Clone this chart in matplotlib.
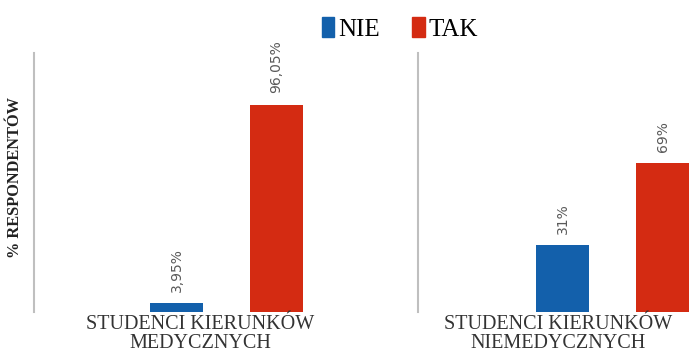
import matplotlib
matplotlib.use("Agg")
import matplotlib.pyplot as plt
from matplotlib.patches import Rectangle

categories = ["STUDENCI KIERUNKÓW\nMEDYCZNYCH", "STUDENCI KIERUNKÓW\nNIEMEDYCZNYCH"]
series = ["NIE", "TAK"]
nie_values = [3.95, 31.0]
tak_values = [96.05, 69.0]
nie_labels = ["3,95%", "31%"]
tak_labels = ["96,05%", "69%"]
ylabel = "% RESPONDENTÓW"

colors = {"NIE": "#1360AB", "TAK": "#D42B12"}
axis_grey = "#BFBFBF"
label_grey = "#595959"
text_dark = "#333333"

W, H = 690, 354
fig = plt.figure(figsize=(W / 100, H / 100), dpi=100)

def px_axes(x0, x1, ytop, ybot):
    return fig.add_axes([x0 / W, 1 - ybot / H, (x1 - x0) / W, (ybot - ytop) / H])

# panel layout (pixels): axis line x, right edge, bar-group center, tick label center
panels = [
    dict(x0=34, x1=418, center=226.5, tick=200),
    dict(x0=418, x1=690, center=612.5, tick=558),
]
unit = 100.0  # px per x data unit
offsets = [-0.5, 0.5]
bar_w = 0.53
ytop, ybot = 53, 312
ymax = (ybot - ytop) / 2.16

for i, p in enumerate(panels):
    ax = px_axes(p["x0"], p["x1"], ytop, ybot)
    ax.set_xlim((p["x0"] - p["center"]) / unit, (p["x1"] - p["center"]) / unit)
    ax.set_ylim(0, ymax)
    vals = [nie_values[i], tak_values[i]]
    labs = [nie_labels[i], tak_labels[i]]
    for s, off, v, lab in zip(series, offsets, vals, labs):
        ax.bar(off, v, width=bar_w, color=colors[s], edgecolor="none", clip_on=False)
        ax.annotate(lab, xy=(off, v), xytext=(0, 8), textcoords="offset points",
                    rotation=90, ha="center", va="bottom", fontsize=10,
                    color=label_grey, family="DejaVu Sans")
    ax.set_xticks([(p["tick"] - p["center"]) / unit])
    ax.set_xticklabels([categories[i]], fontsize=14.5, family="Liberation Serif",
                       color=text_dark, linespacing=1.0)
    ax.tick_params(axis="x", length=0, pad=2)
    ax.set_yticks([])
    for sp in ["top", "right", "bottom"]:
        ax.spines[sp].set_visible(False)
    ax.spines["left"].set_color(axis_grey)
    ax.spines["left"].set_linewidth(1.5)
    ax.patch.set_alpha(0)

# y label
fig.text(15 / W, 1 - 177 / H, ylabel, rotation=90, ha="center", va="center",
         fontsize=11.8, fontweight="bold", family="Liberation Serif", color="#222222")

# legend
handles = [Rectangle((0, 0), 1, 1, color=colors[s]) for s in series]
fig.legend(handles, series, loc="center", bbox_to_anchor=(400 / W, 1 - 29 / H),
           ncol=2, frameon=False, prop={"family": "Liberation Serif", "size": 18},
           handlelength=0.5, handleheight=0.85, handletextpad=0.15, columnspacing=1.3)

fig.savefig("out.png", dpi=100)
